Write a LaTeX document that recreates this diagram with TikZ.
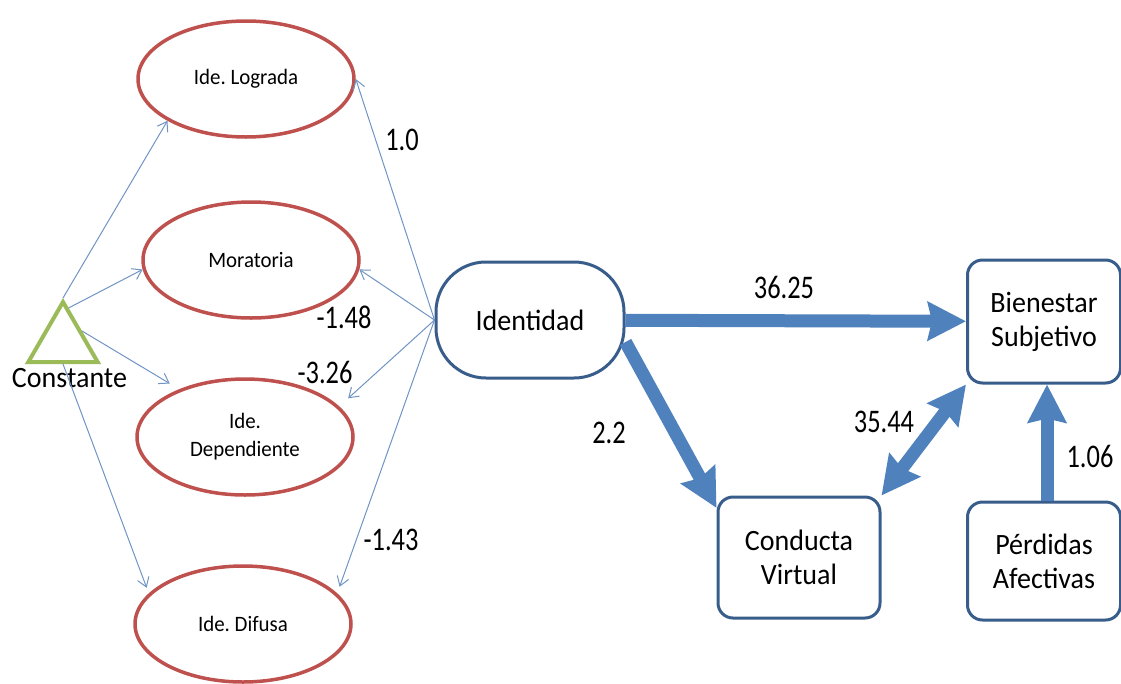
\documentclass[tikz,border=0pt]{standalone}
\usepackage{fontspec}
\setmainfont{Carlito}
\newfontfamily\boxfont{Carlito}[FakeStretch=0.95]
\newfontfamily\numfont{Carlito}[FakeStretch=0.8]
\usetikzlibrary{arrows.meta,shapes.geometric,calc}
\frenchspacing

\definecolor{ellred}{RGB}{190,80,77}
\definecolor{boxblue}{RGB}{56,93,138}
\definecolor{arrblue}{RGB}{79,129,189}
\definecolor{lineblue}{RGB}{112,148,196}
\definecolor{trigreen}{RGB}{155,187,89}

\begin{document}
\begin{tikzpicture}[x=1pt,y=-1pt,
  status/.style={ellipse, draw=ellred, line width=3.5pt, fill=white,
    minimum width=216pt, minimum height=116pt, inner sep=0pt,
    align=center, font=\boxfont\fontsize{22}{28}\selectfont},
  varbox/.style={rectangle, rounded corners=15pt, draw=boxblue, line width=3pt,
    fill=white, align=center, inner sep=0pt, font=\boxfont\fontsize{29.5}{34}\selectfont},
  loading/.style={draw=lineblue, line width=1pt,
    -{Straight Barb[length=9pt,width=12pt]}},
  effect/.style={draw=arrblue, line width=13pt,
    -{Stealth[length=38pt,width=38pt,inset=4pt]}},
  coef/.style={font=\numfont\fontsize{33}{36}\selectfont, inner sep=0pt}
]
\useasboundingbox (0,0) rectangle (1121,683);

% identity statuses
\node[status] (logr) at (246,79)  {Ide. Lograda};
\node[status] (mora) at (251,260) {Moratoria};
\node[status] (dep)  at (245,437) {Ide.\\Dependiente};
\node[status] (dif)  at (243,624) {Ide. Difusa};

% constant
\node[regular polygon, regular polygon sides=3, draw=trigreen, line width=4pt,
      minimum size=80pt, inner sep=0pt] (tri) at (63,342) {};
\node[font=\boxfont\fontsize{29.5}{34}\selectfont, inner sep=0pt] (const) at (69.5,378) {Constante};

% latent and observed variables
\node[varbox, rounded corners=50pt, minimum width=188pt, minimum height=116pt] (ident) at (530,320) {Identidad};
\node[varbox, minimum width=153pt, minimum height=123pt] (bien) at (1044,321.5) {Bienestar\\Subjetivo};
\node[varbox, minimum width=162pt, minimum height=121pt] (cond) at (799,557.5) {Conducta\\Virtual};
\node[varbox, minimum width=153pt, minimum height=118pt] (perd) at (1044,561) {Pérdidas\\Afectivas};

% loadings from the constant
\draw[loading] (tri.corner 1) -- (logr.208);
\draw[loading] ($(tri.corner 1)!0.15!(tri.corner 3)$) -- (mora.185);
\draw[loading, shorten >=11pt] (tri.side 3) -- (dep.144);
\draw[loading, shorten >=6pt] (tri.side 2) -- (dif.162);

% loadings from identity
\draw[loading] (ident.west) -- (logr.east);
\draw[loading] (ident.west) -- (mora.-5);
\draw[loading, shorten >=12pt] (ident.west) -- (dep.18);
\draw[loading, shorten >=7pt] (ident.west) -- (dif.18);

% structural paths
\draw[effect] (ident) -- (bien);
\draw[effect] (ident.-13) -- (cond.149);
\draw[effect, {Stealth[length=38pt,width=38pt,inset=4pt]}-{Stealth[length=38pt,width=38pt,inset=4pt]}]
  (cond.north east) -- (bien.south west);
\draw[effect] ($(perd.north)+(3,0)$) -- ($(bien.south)+(3,0)$);

% coefficients
\node[coef] (c1)  at (402,140) {1.0};
\node[coef] (c2)  at (344,317) {-1.48};
\node[coef] (c3)  at (325,372) {-3.26};
\node[coef] (c4)  at (391,540) {-1.43};
\node[coef] (c5)  at (784,287) {36.25};
\node[coef] (c6)  at (609,433) {2.2};
\node[coef] (c7)  at (884,422) {35.44};
\node[coef] (c8)  at (1090,456) {1.06};
\end{tikzpicture}
\end{document}
